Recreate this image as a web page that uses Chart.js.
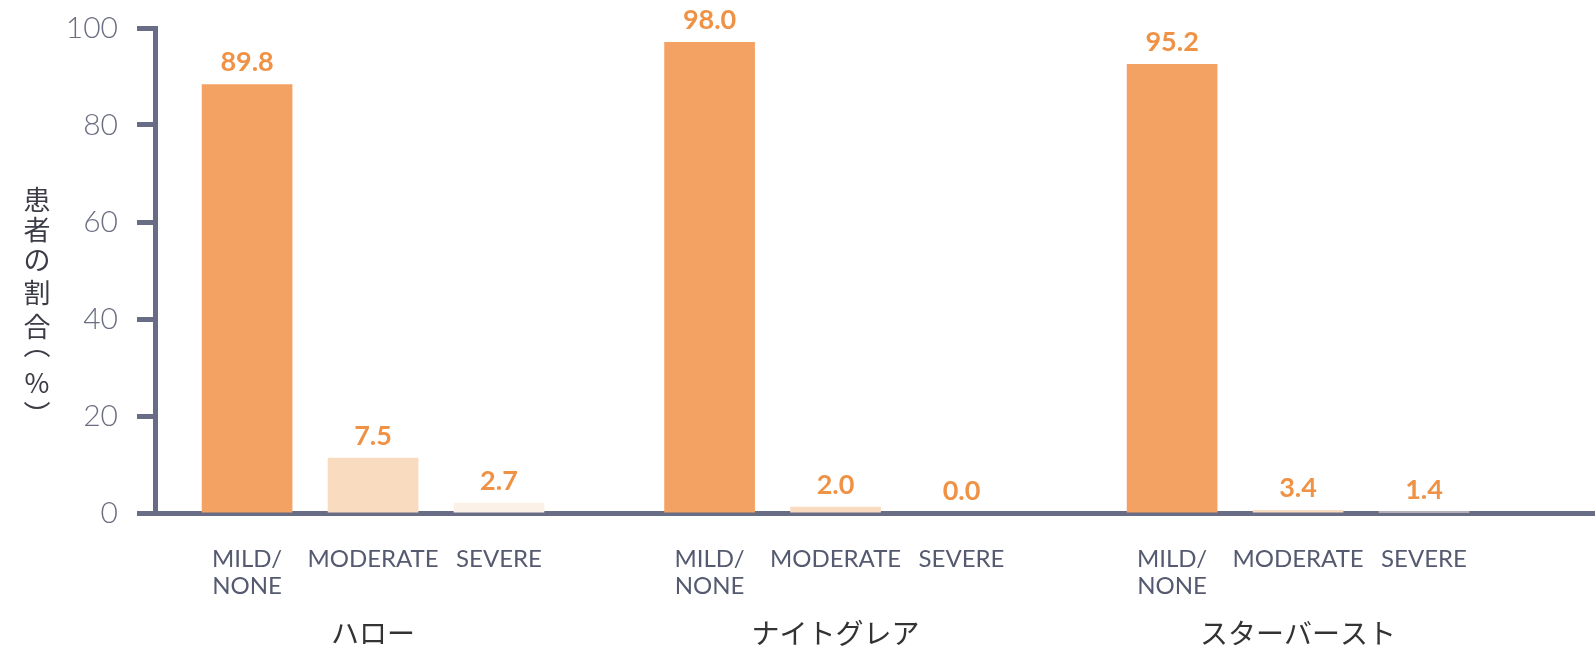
<!DOCTYPE html>
<html>
<head>
<meta charset="utf-8">
<script src="https://cdn.jsdelivr.net/npm/chart.js@4/dist/chart.umd.min.js"></script>
<style>
  html, body { margin: 0; padding: 0; background: #ffffff; }
  #wrap { width: 1595px; height: 647px; position: relative; }
</style>
</head>
<body>
<div id="wrap"><canvas id="main-chart"></canvas></div>
<script>
//data
const groups = ['ハロー', 'ナイトグレア', 'スターバースト'];
const severityLabels = [['MILD/', 'NONE'], ['MODERATE'], ['SEVERE']];
//printed value labels
const mildText = ['89.8', '98.0', '95.2'];
const moderateText = ['7.5', '2.0', '3.4'];
const severeText = ['2.7', '0.0', '1.4'];
//bar heights as drawn
const mildValues = [88.4, 97.1, 92.6];
const moderateValues = [11.4, 1.3, 0.6];
const severeValues = [2.1, 0, 0.3];
const yTicks = [0, 20, 40, 60, 80, 100];
const yTitle = ['患', '者', 'の', '割', '合', '︵', '%', '︶'];

const axisColor = '#686c84';
const labelOrange = '#ef9245';

//turn a list of values into {x, y} points
function toPoints(values) {
  return values.map((v, i) => ({ x: i, y: v }));
}

//plugin: value labels, sub labels under bars, group names and the stacked y title
const textPlugin = {
  id: 'textPlugin',
  afterDatasetsDraw(chart) {
    const ctx = chart.ctx;
    const texts = [mildText, moderateText, severeText];
    const xScale = chart.scales.x;
    const bottom = chart.chartArea.bottom;

    ctx.save();
    chart.data.datasets.forEach((ds, di) => {
      const meta = chart.getDatasetMeta(di);
      meta.data.forEach((bar, i) => {
        //value above the bar
        ctx.fillStyle = labelOrange;
        ctx.font = 'bold 27px Lato, "DejaVu Sans", sans-serif';
        ctx.textAlign = 'center';
        ctx.textBaseline = 'bottom';
        ctx.fillText(texts[di][i], bar.x, Math.min(bar.y, bottom) - 8);

        //severity under the bar
        ctx.fillStyle = '#555a70';
        ctx.font = '24px Lato, "Open Sans", sans-serif';
        ctx.textBaseline = 'middle';
        severityLabels[di].forEach((line, li) => {
          ctx.fillText(line, bar.x, bottom + 46 + li * 27);
        });
      });
    });

    //group names
    ctx.fillStyle = '#333333';
    ctx.font = '28px "Noto Sans CJK JP", sans-serif';
    ctx.textAlign = 'center';
    ctx.textBaseline = 'middle';
    groups.forEach((g, i) => {
      ctx.fillText(g, xScale.getPixelForValue(i), bottom + 120);
    });

    //vertical y title, one character under the other
    //(the vertical bracket glyphs sit off-centre in their box, hence the uneven steps)
    const steps = [0, 30, 30, 33, 34, 18, 38, 32];
    let y = 200;
    ctx.fillStyle = '#3c3c46';
    ctx.font = '27px "Noto Sans CJK JP", sans-serif';
    yTitle.forEach((c, i) => {
      y += steps[i];
      ctx.fillText(c, 37, y);
    });
    ctx.restore();
  }
};

const chart_elem = document.getElementById('main-chart');
const main_chart = new Chart(chart_elem, {
  type: 'bar',
  data: {
    datasets: [
      { label: 'MILD/NONE', data: toPoints(mildValues), backgroundColor: '#f4a264' },
      { label: 'MODERATE', data: toPoints(moderateValues), backgroundColor: '#f9dbc0' },
      { label: 'SEVERE', data: toPoints(severeValues), backgroundColor: '#fcf1e7' }
    ]
  },
  options: {
    responsive: true,
    maintainAspectRatio: false,
    animation: false,
    categoryPercentage: 0.817,
    barPercentage: 0.72,
    layout: { padding: { top: 28, left: 0, right: 0, bottom: 0 } },
    plugins: {
      legend: { display: false },
      tooltip: { enabled: false }
    },
    scales: {
      x: {
        type: 'linear',
        offset: false,
        min: -0.4714,
        max: 2.642,
        //one tick per group so the bar width follows the group spacing
        afterBuildTicks: (scale) => { scale.ticks = groups.map((g, i) => ({ value: i })); },
        ticks: { display: false },
        grid: { display: false, drawTicks: false },
        border: { display: true, color: axisColor, width: 5 },
        afterFit: (scale) => { scale.height = 134; }
      },
      y: {
        min: 0,
        max: 100,
        afterBuildTicks: (scale) => { scale.ticks = yTicks.map(v => ({ value: v })); },
        ticks: {
          color: '#6b6e80',
          padding: 19,
          font: { family: 'Lato, "Open Sans", sans-serif', size: 30, weight: 300, lineHeight: 0.5 }
        },
        grid: {
          drawOnChartArea: false,
          drawTicks: true,
          tickLength: 18,
          tickWidth: 5,
          tickColor: axisColor
        },
        border: { display: true, color: axisColor, width: 5 },
        afterFit: (scale) => { scale.width = 155; }
      }
    }
  },
  plugins: [textPlugin]
});
</script>
</body>
</html>
